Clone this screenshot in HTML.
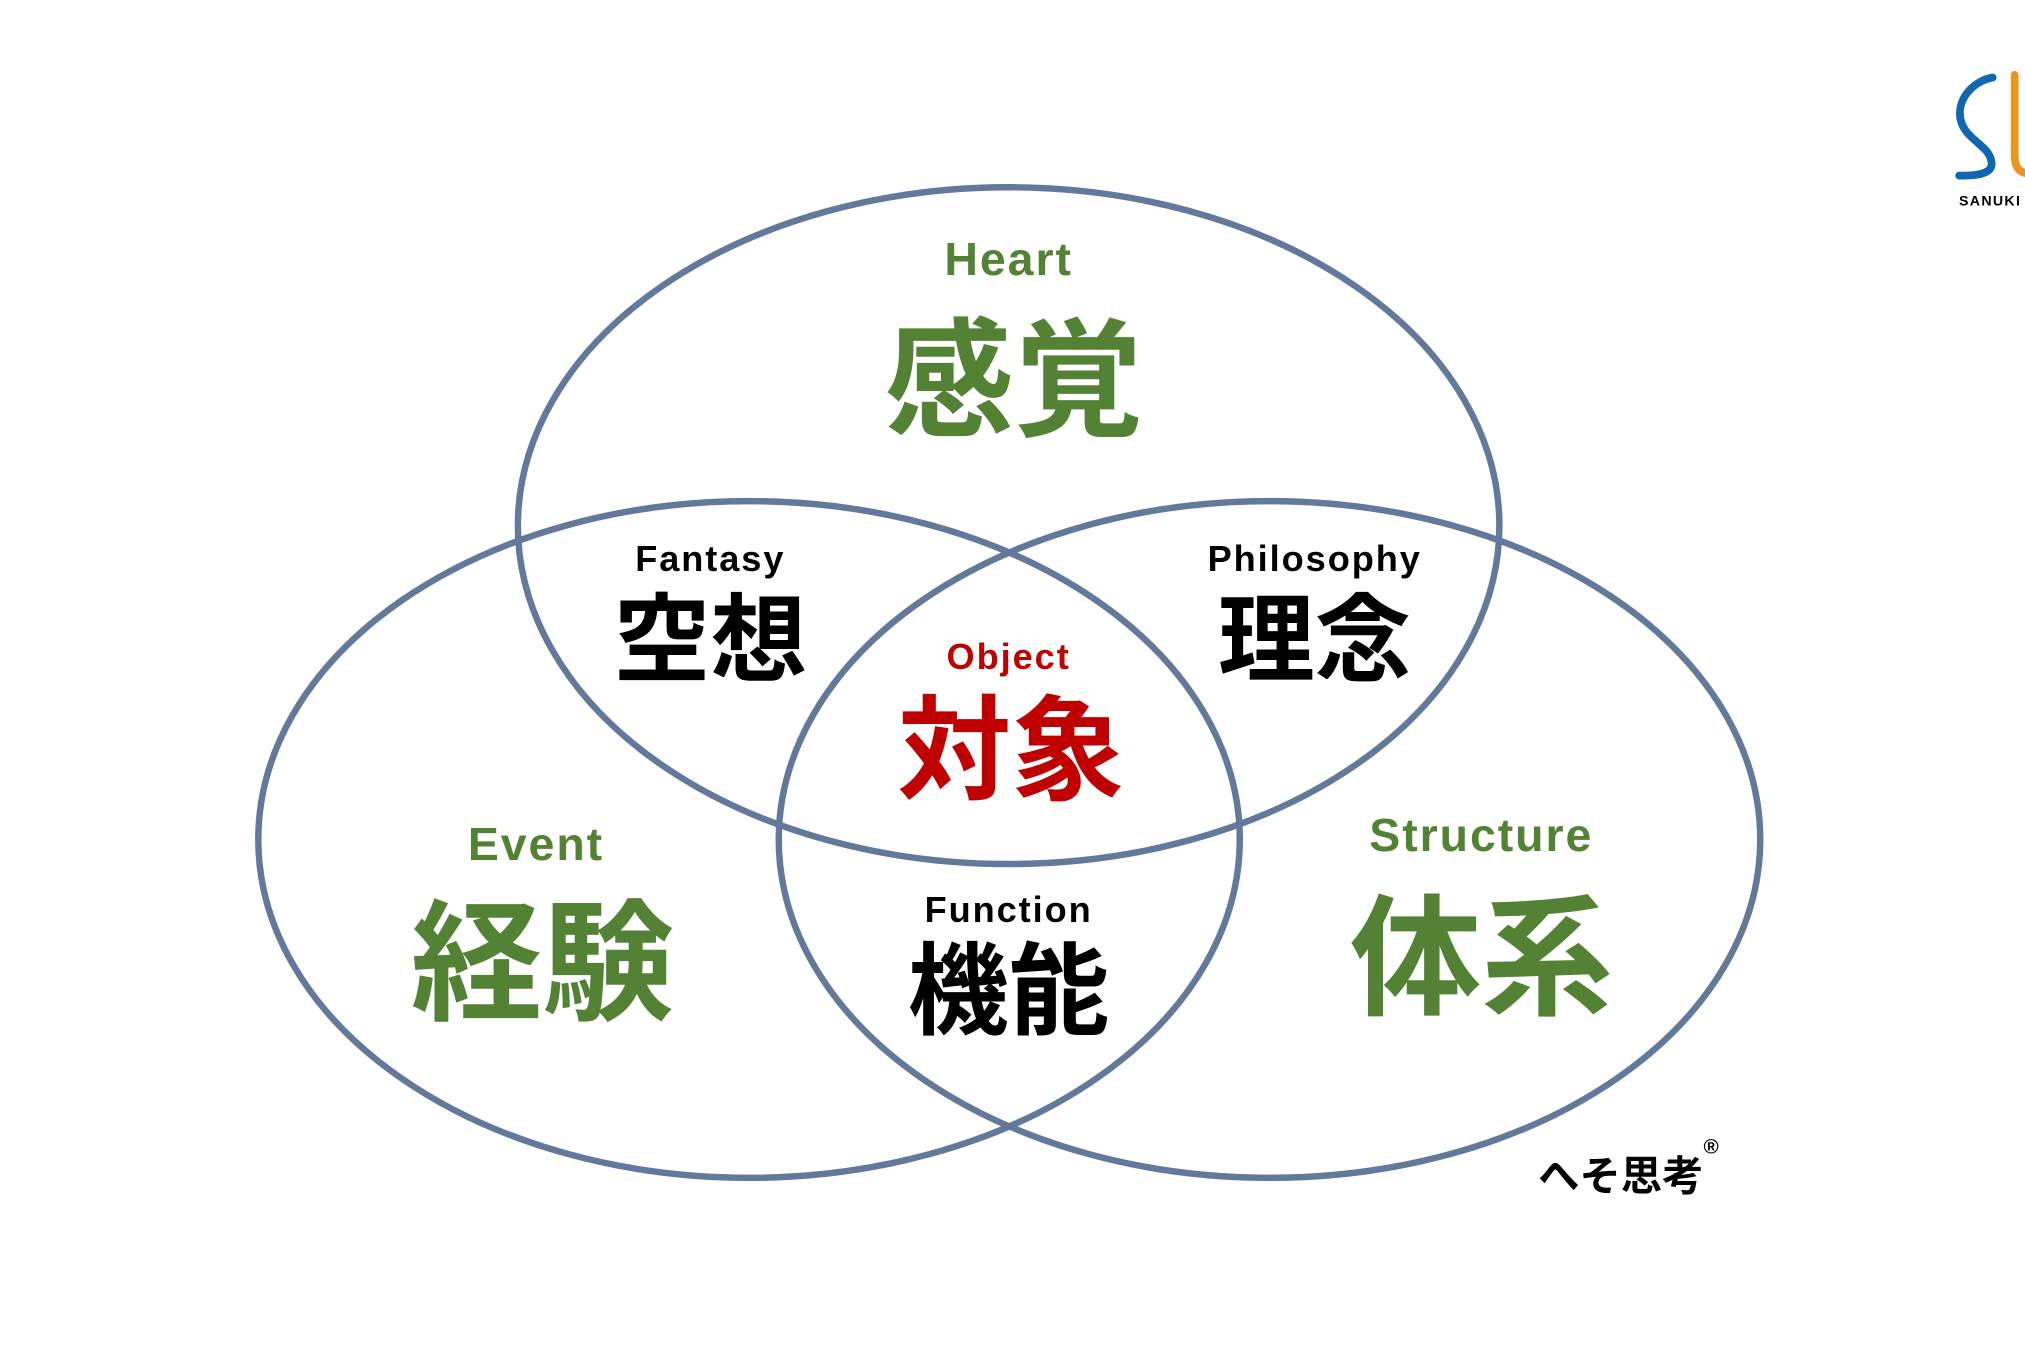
<!DOCTYPE html>
<html><head><meta charset="utf-8"><style>
html,body{margin:0;padding:0;background:#fff;}
svg{display:block}
text{font-family:"Liberation Sans","Noto Sans CJK JP",sans-serif;text-anchor:middle;font-weight:bold}
.g{fill:#548235}.k{fill:#000}.r{fill:#c00000}
.l{letter-spacing:1.5px}
</style></head><body>
<svg width="2025" height="1350" viewBox="0 0 1568 1045.3" xmlns="http://www.w3.org/2000/svg">
<rect width="1568" height="1046" fill="#fff"/>
<g fill="none" stroke="#63799b" stroke-width="5">
<ellipse cx="781" cy="407" rx="380" ry="262"/>
<ellipse cx="580" cy="650" rx="380" ry="262"/>
<ellipse cx="983" cy="650" rx="380" ry="262"/>
</g>
<text x="781" y="213" font-size="36" class="g l">Heart</text>
<text x="785" y="330" font-size="100" class="g">感覚</text>
<text x="550" y="442" font-size="28" class="k l">Fantasy</text>
<text x="550" y="522" font-size="75" class="k">空想</text>
<text x="1018" y="442" font-size="28" class="k l">Philosophy</text>
<text x="1018" y="522" font-size="75" class="k">理念</text>
<text x="781" y="518" font-size="28" class="r l">Object</text>
<text x="783" y="612" font-size="88" class="r">対象</text>
<text x="415" y="666" font-size="36" class="g l">Event</text>
<text x="420" y="782" font-size="102" class="g">経験</text>
<text x="1147" y="659" font-size="36" class="g l">Structure</text>
<text x="1147" y="778" font-size="102" class="g">体系</text>
<text x="781" y="714" font-size="28" class="k l">Function</text>
<text x="781" y="795" font-size="78" class="k">機能</text>
<text x="1255" y="922" font-size="32" class="k" font-weight="normal">へそ思考</text>
<text x="1325" y="893" font-size="16" class="k">®</text>
<path d="M1543 60 C1530 62 1515 75 1518 92 C1521 108 1540 112 1542 125 C1544 135 1530 136 1517 136" fill="none" stroke="#0f67b1" stroke-width="6" stroke-linecap="round"/>
<path d="M1560 58 L1560 120 C1560 128 1562 132 1568 134" fill="none" stroke="#e8961e" stroke-width="6" stroke-linecap="round"/>
<text x="1541" y="159" font-size="11" font-weight="normal" class="k" letter-spacing="1">SANUKI</text>
</svg>
</body></html>
